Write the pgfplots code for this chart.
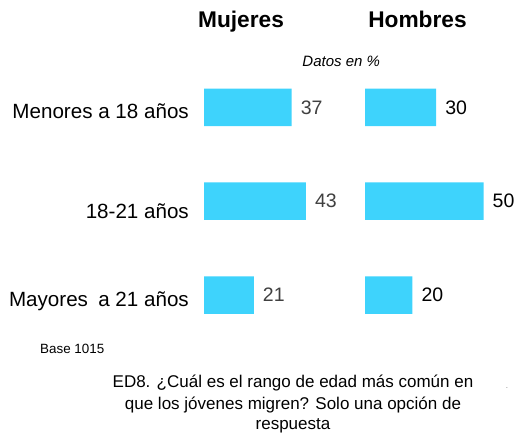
\documentclass[border=0pt]{standalone}
\usepackage{fontspec}
\setmainfont{Liberation Sans}
\usepackage{pgfplots}
\pgfplotsset{compat=1.18}
\definecolor{barc}{RGB}{62,211,252}
\definecolor{numgray}{RGB}{64,64,64}
\newcommand{\lbl}[2]{\raisebox{#1}[0pt][0pt]{#2}}
\begin{document}
\begin{tikzpicture}[x=1pt,y=1pt]
\pgfplotsset{
 common/.style={
  xbar, scale only axis, width=118.5pt, height=281.5pt,
  xmin=0, xmax=50, ymin=-0.5, ymax=2.5,
  axis line style={draw=none}, tick style={draw=none},
  xtick=\empty,
  bar width=37.5pt, clip=false,
  nodes near coords, /pgf/number format/assume math mode=true,
  nodes near coords style={anchor=west, inner sep=0pt, xshift=9pt, font=\fontsize{19.5}{22}\selectfont},
  anchor=south west,
 }
}
\begin{axis}[common, at={(204pt,97pt)},
  ytick={0,1,2},
  yticklabels={\lbl{-11.7pt}{Mayores\hspace{0.5em}a 21 años}, \lbl{-17.6pt}{18-21 años}, \lbl{-10.8pt}{Menores a 18 años}},
  yticklabel style={anchor=east, inner sep=0pt, xshift=-10.7pt, font=\fontsize{20.6}{24}\selectfont},
  every node near coord/.append style={text=numgray}]
\addplot[fill=barc, draw=none] coordinates {(21,0) (43,1) (37,2)};
\end{axis}
\begin{axis}[common, at={(365pt,97pt)}, ytick=\empty,
  every node near coord/.append style={text=black}]
\addplot[fill=barc, draw=none] coordinates {(20,0) (50,1) (30,2)};
\end{axis}
\node[font=\bfseries\fontsize{22.7}{26}\selectfont, anchor=base] at (241,411.3) {Mujeres};
\node[font=\bfseries\fontsize{22.7}{26}\selectfont, anchor=base] at (417.5,411.3) {Hombres};
\node[font=\itshape\fontsize{15}{16}\selectfont, anchor=base, inner sep=0pt] at (341.2,372.3) {Datos en \%};
\node[anchor=base west, inner sep=0pt, font=\fontsize{13.4}{16}\selectfont] at (40,85.7) {Base 1015};
\node[anchor=base, inner sep=0pt, font=\fontsize{17}{20}\selectfont] at (293,52) {ED8. ¿Cuál es el rango de edad más común en};
\node[anchor=base, inner sep=0pt, font=\fontsize{17}{20}\selectfont] at (293,30) {que los jóvenes migren? Solo una opción de};
\node[anchor=base, inner sep=0pt, font=\fontsize{17}{20}\selectfont] at (293,9.5) {respuesta};
\node[anchor=base, inner sep=0pt, text=gray, font=\fontsize{8}{8}\selectfont] at (507,51) {.};
\pgfresetboundingbox
\useasboundingbox (0,0) rectangle (516,439);
\end{tikzpicture}
\end{document}
